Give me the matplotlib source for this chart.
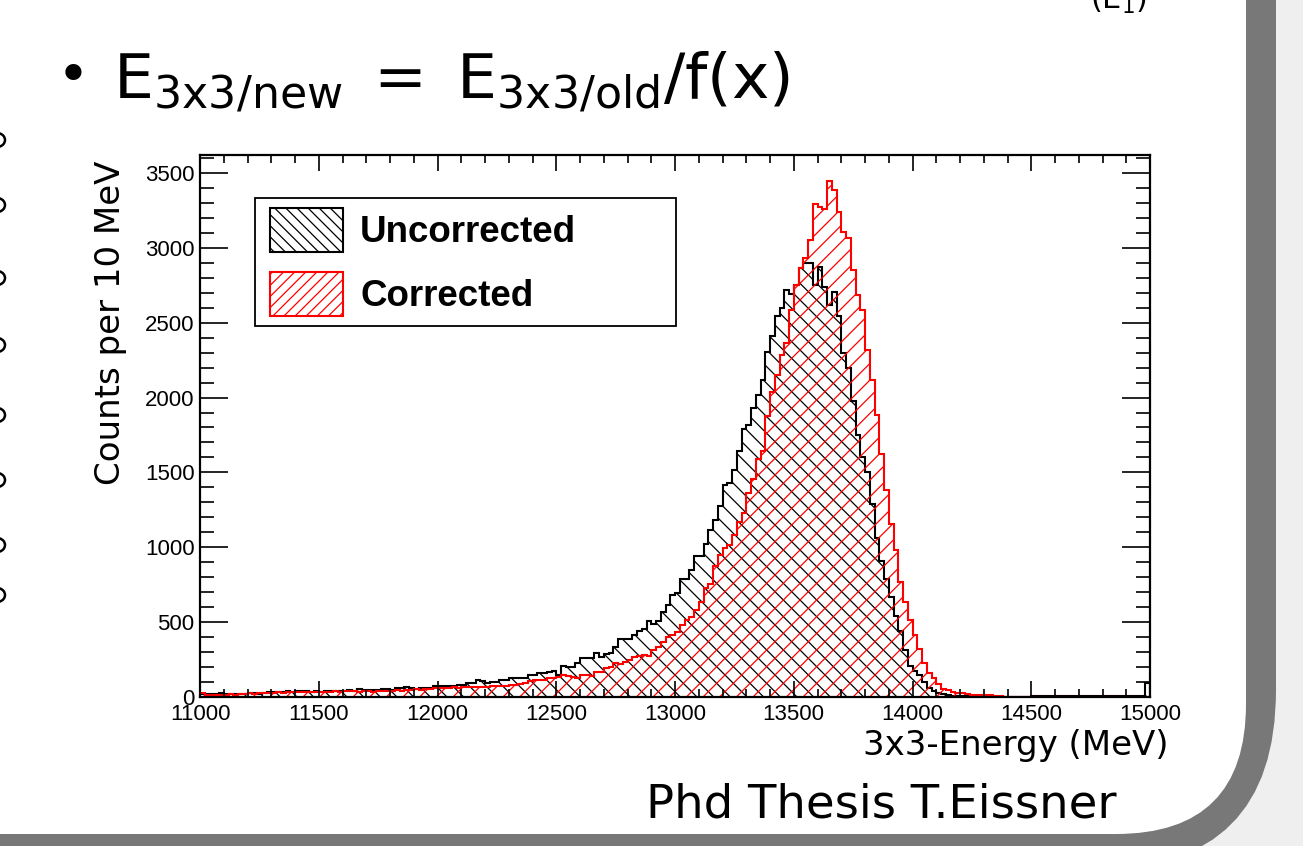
import numpy as np
import matplotlib
matplotlib.use("Agg")
import matplotlib.pyplot as plt
from matplotlib.patches import FancyBboxPatch, Rectangle, Arc
from matplotlib.ticker import MultipleLocator

# ---------------- data ----------------
bin_start = 11000      # MeV
bin_width = 20         # MeV

uncorrected = [
    20, 18, 17, 18, 29, 22, 19, 21, 20, 22,            # 11000-11180
    24, 25, 23, 30, 31, 33, 36, 35, 37, 36,            # 11200-11380
    40, 39, 41, 36, 37, 35, 38, 40, 41, 39,            # 11400-11580
    42, 44, 43, 51, 50, 47, 46, 49, 51, 53,            # 11600-11780
    50, 58, 57, 65, 63, 55, 60, 58, 62, 73,            # 11800-11980
    73, 72, 75, 75, 77, 80, 91, 93, 111, 108,          # 12000-12180
    95, 97, 100, 116, 114, 125, 127, 124, 128, 147,    # 12200-12380
    150, 158, 160, 169, 174, 147, 207, 198, 198, 225,  # 12400-12580
    258, 258, 258, 296, 269, 287, 296, 336, 385, 385,  # 12600-12780
    385, 414, 443, 452, 510, 485, 510, 570, 615, 681,  # 12800-12980
    693, 786, 786, 848, 942, 942, 1022, 1116, 1182, 1276,      # 13000-13180
    1416, 1427, 1516, 1643, 1788, 1820, 1929, 2018, 2115, 2306,  # 13200-13380
    2410, 2542, 2595, 2720, 2692, 2750, 2862, 2902, 2902, 2755,  # 13400-13580
    2875, 2740, 2619, 2708, 2542, 2300, 2200, 1980, 1750, 1600,  # 13600-13780
    1500, 1290, 1060, 910, 790, 665, 540, 440, 316, 210,         # 13800-13980
    175, 148, 100, 60, 40, 25, 18, 12, 9, 7,                     # 14000-14180
    5, 4, 3, 3, 2, 2, 1, 1, 1, 1,                                # 14200-14380
    1, 1, 0, 0, 0, 5, 5, 5, 5, 5,                                # 14400-14580
    5, 5, 5, 5, 5, 5, 5, 5, 5, 5,                                # 14600-14780
    5, 5, 5, 5, 5, 5, 5, 5, 5, 95,                               # 14800-14980
]

corrected = [
    24, 11, 12, 14, 16, 15, 17, 16, 18, 22,            # 11000-11180
    24, 23, 25, 24, 26, 28, 31, 30, 31, 33,            # 11200-11380
    31, 33, 34, 33, 35, 33, 36, 35, 37, 36,            # 11400-11580
    38, 37, 39, 36, 38, 37, 36, 38, 42, 40,            # 11600-11780
    43, 44, 42, 47, 48, 51, 50, 52, 55, 58,            # 11800-11980
    60, 58, 62, 65, 63, 66, 65, 68, 66, 69,            # 12000-12180
    70, 73, 72, 75, 74, 80, 78, 85, 91, 110,           # 12200-12380
    113, 112, 115, 125, 128, 136, 147, 140, 136, 129,  # 12400-12580
    147, 147, 140, 169, 169, 191, 198, 225, 220, 236,  # 12600-12780
    247, 269, 274, 281, 274, 314, 336, 370, 403, 414,  # 12800-12980
    437, 481, 515, 532, 581, 637, 726, 755, 872, 949,            # 13000-13180
    994, 1016, 1083, 1170, 1230, 1362, 1453, 1590, 1640, 1880,   # 13200-13380
    2040, 2151, 2285, 2367, 2585, 2752, 2864, 2930, 3053, 3293,  # 13400-13580
    3275, 3258, 3449, 3387, 3242, 3108, 3064, 2852, 2685, 2585,  # 13600-13780
    2317, 2115, 1885, 1620, 1385, 1158, 981, 765, 636, 512,      # 13800-13980
    417, 319, 227, 160, 130, 85, 52, 50, 32, 30,                 # 14000-14180
    25, 20, 16, 13, 12, 12, 11, 10, 4, 2,                        # 14200-14380
    1, 1, 0, 0, 0, 0, 0, 0, 0, 0,                                # 14400-14580
    0, 0, 0, 0, 0, 0, 0, 0, 0, 0,                                # 14600-14780
    0, 0, 0, 0, 0, 0, 0, 0, 0, 0,                                # 14800-14980
]

series_labels = ["Uncorrected", "Corrected"]
x_ticks = [11000, 11500, 12000, 12500, 13000, 13500, 14000, 14500, 15000]
y_ticks = [0, 500, 1000, 1500, 2000, 2500, 3000, 3500]

title_text = r"$\mathregular{E_{3x3/new}\;=\;E_{3x3/old}/f(x)}$"
y_label = "Counts per 10 MeV"
x_label = "3x3-Energy (MeV)"
credit = "Phd Thesis T.Eissner"

# ---------------- figure ----------------
edges = bin_start + bin_width * np.arange(len(uncorrected) + 1)

W, H = 1303, 846
plt.rcParams['hatch.linewidth'] = 0.9
fig = plt.figure(figsize=(W / 100, H / 100), dpi=100, facecolor='#efefef')

# background slide
bg = fig.add_axes([0, 0, 1, 1], zorder=0)
bg.set_xlim(0, W)
bg.set_ylim(H, 0)
bg.axis('off')
bg.add_patch(FancyBboxPatch((-400, -400), 1276 + 400, 869 + 400,
                            boxstyle="round,pad=0,rounding_size=179",
                            fc='#787878', ec='none'))
bg.add_patch(FancyBboxPatch((-400, -400), 1246 + 400, 834 + 400,
                            boxstyle="round,pad=0,rounding_size=130",
                            fc='white', ec='none'))

# small glyph fragments cut by the left slide edge
for yy in [140, 205, 278, 345, 415, 480, 545, 595]:
    bg.add_patch(Arc((-3, yy), 16, 14, theta1=-70, theta2=70, lw=1.8, color='black'))

sans = ['DejaVu Sans']
bg.text(73, 78, "\u2022", fontsize=40, ha='center', va='center', family=sans)
bg.text(113, 97, title_text, fontsize=45.5, ha='left', va='baseline', family=sans)
bg.text(1090, 9, r"(E$_\mathregular{1}$)", fontsize=22, ha='left', va='baseline', family=sans)
bg.text(111, 323, y_label, fontsize=24.5, rotation=90, ha='center', va='center', family=sans)
bg.text(1016, 745, x_label, fontsize=24.5, ha='center', va='center', family=sans)
bg.text(881, 805, credit, fontsize=33.5, ha='center', va='center', family=sans)

# histogram axes
ax = fig.add_axes([200 / W, 1 - 697 / H, 950 / W, 542 / H], zorder=1)
ax.set_facecolor('white')

ax.stairs(uncorrected, edges, fill=True, hatch='\\\\', facecolor='none',
          edgecolor='black', linewidth=0)
ax.stairs(uncorrected, edges, color='black', linewidth=1.5)
ax.stairs(corrected, edges, fill=True, hatch='//', facecolor='none',
          edgecolor='red', linewidth=0)
ax.stairs(corrected, edges, color='red', linewidth=1.5)

ax.set_xlim(11000, 15000)
ax.set_ylim(0, 3620)
ax.set_xticks(x_ticks)
ax.set_yticks(y_ticks)
ax.xaxis.set_minor_locator(MultipleLocator(100))
ax.yaxis.set_minor_locator(MultipleLocator(100))
ax.tick_params(which='both', direction='in', top=True, right=True, width=1.2)
ax.tick_params(axis='x', which='major', length=11.5, pad=5)
ax.tick_params(axis='x', which='minor', length=6)
ax.tick_params(axis='y', which='major', length=20, pad=4)
ax.tick_params(axis='y', which='minor', length=10)
for lab in ax.get_xticklabels() + ax.get_yticklabels():
    lab.set_fontfamily('Liberation Sans')
    lab.set_fontsize(16)
for s in ax.spines.values():
    s.set_linewidth(1.6)

# legend overlay
ov = fig.add_axes([0, 0, 1, 1], zorder=2)
ov.set_xlim(0, W)
ov.set_ylim(H, 0)
ov.axis('off')
ov.patch.set_alpha(0)
ov.add_patch(Rectangle((255, 198), 421, 128, fc='white', ec='black', lw=1.3))
ov.add_patch(Rectangle((270, 208), 73, 44, fc='white', ec='black', lw=1.5, hatch='\\\\\\'))
ov.add_patch(Rectangle((270, 272), 73, 44, fc='white', ec='red', lw=1.5, hatch='///'))
ov.text(360, 232, series_labels[0], fontsize=26.5, fontweight='bold',
        family='Liberation Sans', ha='left', va='center')
ov.text(360, 296, series_labels[1], fontsize=26.5, fontweight='bold',
        family='Liberation Sans', ha='left', va='center')

fig.savefig("out.png", dpi=100, facecolor=fig.get_facecolor())
